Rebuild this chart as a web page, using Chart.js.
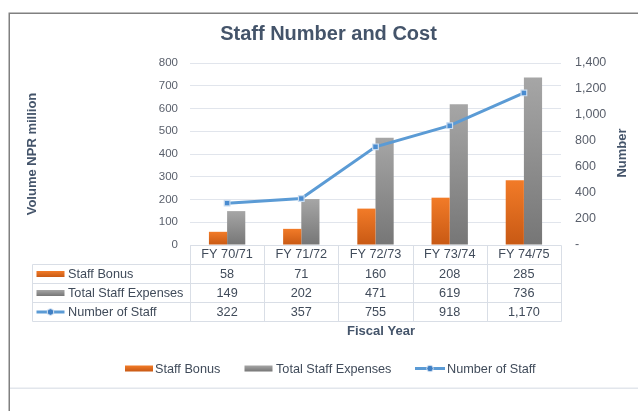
<!DOCTYPE html>
<html><head><meta charset="utf-8">
<script src="https://cdn.jsdelivr.net/npm/chart.js@4.4.1/dist/chart.umd.min.js"></script>
<style>html,body{margin:0;padding:0;background:#fff;}#wrap{position:relative;width:638px;height:411px;overflow:hidden;}canvas{display:block;}</style>
</head><body><div id="wrap"><canvas id="c" width="638" height="411"></canvas></div>
<script>
// ---- data ----
const categories = ['FY 70/71', 'FY 71/72', 'FY 72/73', 'FY 73/74', 'FY 74/75'];
const staffBonus = [58, 71, 160, 208, 285];
const totalStaffExpenses = [149, 202, 471, 619, 736];
const numberOfStaff = [322, 357, 755, 918, 1170];
const leftAxis = { min: 0, max: 800, step: 100 };
const rightAxis = { min: 0, max: 1400, step: 200 };
const seriesNames = ['Staff Bonus', 'Total Staff Expenses', 'Number of Staff'];
const chartTitle = 'Staff Number and Cost';
const leftTitle = 'Volume NPR million';
const rightTitle = 'Number';
const xTitle = 'Fiscal Year';

// ---- styles ----
const FONT = '"Liberation Sans", Arial, sans-serif';
const TXT = '#404B5A';
const TICK = '#595F6B';
const TITLE = '#44546A';
const LINE_BLUE = '#5B9BD5';
const TABLE_LINE = '#D9DEE6';
const fmt = v => v.toLocaleString('en-US');

function barGradient(ctx, top, bottom) {
  return function (context) {
    const chart = context.chart;
    if (!chart.chartArea || context.raw == null) return top;
    const ys = chart.scales.y;
    const y0 = ys.getPixelForValue(context.raw);
    const y1 = ys.getPixelForValue(0);
    const g = chart.ctx.createLinearGradient(0, y0, 0, y1);
    g.addColorStop(0, top);
    g.addColorStop(1, bottom);
    return g;
  };
}
const ORANGE_TOP = '#F27B28', ORANGE_BOT = '#C85914';
const GRAY_TOP = '#A6A6A6', GRAY_BOT = '#767676';

function key(c, type, x, yc, w) {
  if (type === 0 || type === 1) {
    const g = c.createLinearGradient(0, yc - 3, 0, yc + 3);
    g.addColorStop(0, type === 0 ? ORANGE_TOP : GRAY_TOP);
    g.addColorStop(1, type === 0 ? ORANGE_BOT : GRAY_BOT);
    c.fillStyle = g;
    c.fillRect(x, yc - 3, w, 6);
  } else {
    c.strokeStyle = LINE_BLUE; c.lineWidth = 3;
    c.beginPath(); c.moveTo(x, yc); c.lineTo(x + w, yc); c.stroke();
    c.fillStyle = '#3F7FC4'; c.strokeStyle = '#D6E4F3'; c.lineWidth = 1;
    c.beginPath(); c.arc(x + w / 2, yc, 3.3, 0, Math.PI * 2); c.fill(); c.stroke();
  }
}

const decor = {
  id: 'decor',
  beforeDraw(chart) {
    const c = chart.ctx;
    c.save();
    c.fillStyle = '#fff'; c.fillRect(0, 0, chart.width, chart.height);
    c.strokeStyle = '#808080'; c.lineWidth = 1.5;
    c.beginPath(); c.moveTo(9.25, 411); c.lineTo(9.25, 13.25); c.lineTo(640, 13.25); c.stroke();
    c.strokeStyle = '#E2E6EC'; c.lineWidth = 1.5;
    c.beginPath(); c.moveTo(10, 388.25); c.lineTo(640, 388.25); c.stroke();
    c.restore();
  },
  afterDraw(chart) {
    const c = chart.ctx;
    const a = chart.chartArea;
    const xs = chart.scales.x;
    const n = categories.length;
    const cw = (a.right - a.left) / n;
    const top = Math.round(a.bottom) + 0.5;
    const rh = 19;
    const tl = 32.5;
    const right = Math.round(a.right) + 0.5;
    c.save();
    // table grid
    c.strokeStyle = TABLE_LINE; c.lineWidth = 1;
    c.beginPath();
    c.moveTo(Math.round(a.left) + 0.5, top); c.lineTo(right, top);
    for (let r = 1; r <= 4; r++) { c.moveTo(tl, top + r * rh); c.lineTo(right, top + r * rh); }
    for (let k = 0; k <= n; k++) {
      const x = Math.round(a.left + k * cw) + 0.5;
      c.moveTo(x, top); c.lineTo(x, top + 4 * rh);
    }
    c.moveTo(tl, top + rh); c.lineTo(tl, top + 4 * rh);
    c.stroke();
    // rows
    const rows = [staffBonus, totalStaffExpenses, numberOfStaff];
    c.font = '12.7px ' + FONT;
    c.textBaseline = 'middle';
    rows.forEach((data, r) => {
      const yc = top + (r + 1) * rh + rh / 2;
      key(c, r, 36.5, yc, 28);
      c.fillStyle = TXT; c.textAlign = 'left';
      c.fillText(seriesNames[r], 68, yc + 0.5);
      c.textAlign = 'center';
      data.forEach((v, i) => c.fillText(fmt(v), xs.getPixelForValue(i), yc + 0.5));
    });
    // x title
    c.font = 'bold 13px ' + FONT; c.fillStyle = TITLE; c.textAlign = 'center';
    c.fillText(xTitle, 381, 331.5);
    // chart title
    c.font = 'bold 20px ' + FONT; c.fillStyle = TITLE;
    c.fillText(chartTitle, 328.5, 34.5);
    // right axis title (reads bottom to top)
    c.save(); c.translate(622, 153); c.rotate(-Math.PI / 2);
    c.font = 'bold 13px ' + FONT; c.fillStyle = TITLE; c.textAlign = 'center';
    c.fillText(rightTitle, 0, 0); c.restore();
    // legend
    const ly = 368.5;
    c.font = '12.7px ' + FONT; c.fillStyle = TXT; c.textAlign = 'left';
    const lx = [[125, 155], [244.5, 276], [415, 447]];
    lx.forEach((p, i) => {
      key(c, i, p[0], ly, i === 2 ? 30 : 28);
      c.fillStyle = TXT; c.font = '12.7px ' + FONT; c.textAlign = 'left'; c.textBaseline = 'middle';
      c.fillText(seriesNames[i], p[1], ly + 0.5);
    });
    c.restore();
  }
};

new Chart(document.getElementById('c'), {
  data: {
    labels: categories,
    datasets: [
      { type: 'line', label: seriesNames[2], data: numberOfStaff, yAxisID: 'y1', order: 0,
        borderColor: LINE_BLUE, borderWidth: 3, pointStyle: 'rect', pointRadius: 4,
        pointBackgroundColor: '#4A8CD0', pointBorderColor: '#C9DCF0', pointBorderWidth: 1.2,
        tension: 0, fill: false },
      { type: 'bar', label: seriesNames[0], data: staffBonus, yAxisID: 'y', order: 1,
        backgroundColor: barGradient(null, ORANGE_TOP, ORANGE_BOT),
        categoryPercentage: 0.49, barPercentage: 1.0, borderWidth: 0 },
      { type: 'bar', label: seriesNames[1], data: totalStaffExpenses, yAxisID: 'y', order: 1,
        backgroundColor: barGradient(null, GRAY_TOP, GRAY_BOT),
        categoryPercentage: 0.49, barPercentage: 1.0, borderWidth: 0 }
    ]
  },
  options: {
    responsive: false, animation: false, devicePixelRatio: 1,
    layout: { padding: { top: 63, bottom: 147, left: 0, right: 0 } },
    plugins: { legend: { display: false }, tooltip: { enabled: false }, title: { display: false } },
    scales: {
      x: {
        grid: { display: false, drawTicks: false }, border: { display: false },
        ticks: { padding: 2, font: { family: FONT, size: 12.7 }, color: TXT, maxRotation: 0, autoSkip: false },
        afterFit(s) { s.height = 19; }
      },
      y: {
        position: 'left', min: leftAxis.min, max: leftAxis.max,
        ticks: { stepSize: leftAxis.step, padding: 12, font: { family: FONT, size: 11.5 }, color: TICK },
        grid: { color: '#E1E5EC', drawTicks: false, lineWidth: 1 }, border: { display: false },
        title: { display: true, text: leftTitle, font: { family: FONT, size: 13, weight: 'bold' }, color: TITLE, padding: { top: 25, bottom: 0 } },
        afterFit(s) { s.width = 190; }
      },
      y1: {
        position: 'right', min: rightAxis.min, max: rightAxis.max,
        ticks: { stepSize: rightAxis.step, padding: 14, font: { family: FONT, size: 12.5 }, color: TICK,
          callback: v => v === 0 ? '-' : fmt(v) },
        grid: { display: false, drawTicks: false }, border: { display: false },
        afterFit(s) { s.width = 77; }
      }
    }
  },
  plugins: [decor]
});
</script></body></html>
